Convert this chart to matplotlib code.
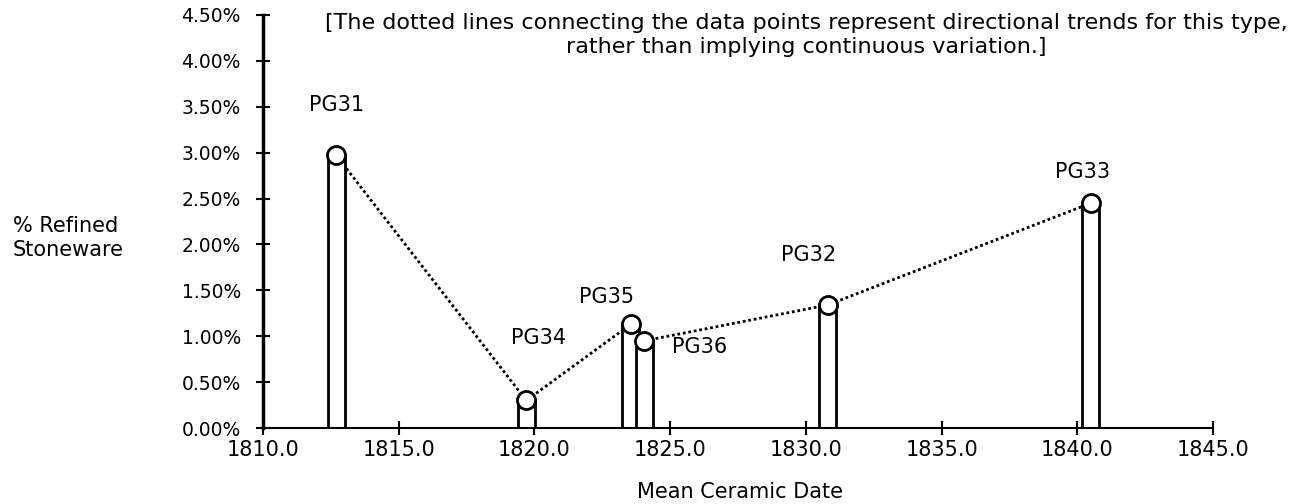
import matplotlib
matplotlib.use("Agg")
import matplotlib.pyplot as plt
from matplotlib.ticker import FuncFormatter

# data
sites = ['PG31', 'PG34', 'PG35', 'PG36', 'PG32', 'PG33']
mean_date = [1812.7, 1819.7, 1823.55, 1824.05, 1830.8, 1840.5]
pct_stoneware = [2.97, 0.30, 1.13, 0.95, 1.34, 2.45]

# label offsets in pixels (dx, dy) from each point
label_offsets = [(0, 50), (12, 62), (-24, 27), (55, -6), (-19, 50), (-8, 31)]

plt.rcParams['font.family'] = ['DejaVu Sans']

fig = plt.figure(figsize=(13, 5.04), dpi=100)
ax = fig.add_axes([263 / 1300, 1 - 428 / 504, (1213 - 263) / 1300, (428 - 15) / 504])

# thin "cylinder" bars
ax.bar(mean_date, pct_stoneware, width=0.62, color='white', edgecolor='black',
       linewidth=2, zorder=2)
ax.plot(mean_date, pct_stoneware, linestyle=(0, (1, 1)), color='black', lw=2, zorder=1)
ax.plot(mean_date, pct_stoneware, 'o', ms=13, mfc='white', mec='black', mew=2, zorder=3)

for s, x, y, (dx, dy) in zip(sites, mean_date, pct_stoneware, label_offsets):
    ax.annotate(s, (x, y), xytext=(dx, dy), textcoords='offset pixels',
                ha='center', va='center', fontsize=15)

ax.set_xlim(1810, 1845)
ax.set_ylim(0, 4.5)
ax.set_xticks([1810, 1815, 1820, 1825, 1830, 1835, 1840, 1845])
ax.set_yticks([0, 0.5, 1, 1.5, 2, 2.5, 3, 3.5, 4, 4.5])
ax.xaxis.set_major_formatter(FuncFormatter(lambda v, p: '%.1f' % v))
ax.yaxis.set_major_formatter(FuncFormatter(lambda v, p: '%.2f%%' % v))
ax.tick_params(axis='both', direction='inout', length=10, width=1.5)
ax.tick_params(axis='x', pad=4, labelsize=15)
ax.tick_params(axis='y', pad=11, labelsize=13.5)
for sp in ['top', 'right']:
    ax.spines[sp].set_visible(False)
ax.spines['left'].set_linewidth(2.5)
ax.spines['bottom'].set_linewidth(1.5)
ax.spines['left'].set_zorder(4)
ax.spines['bottom'].set_zorder(4)

fig.text(13 / 1300, 1 - 238 / 504, '% Refined\nStoneware', ha='left', va='center',
         fontsize=15, linespacing=1.25)
fig.text(740 / 1300, 1 - 492 / 504, 'Mean Ceramic Date', ha='center', va='center', fontsize=15)
fig.text(806 / 1300, 1 - 35 / 504,
         '[The dotted lines connecting the data points represent directional trends for this type,\n'
         'rather than implying continuous variation.]',
         ha='center', va='center', fontsize=16, linespacing=1.2)

fig.savefig('out.png', dpi=100)
